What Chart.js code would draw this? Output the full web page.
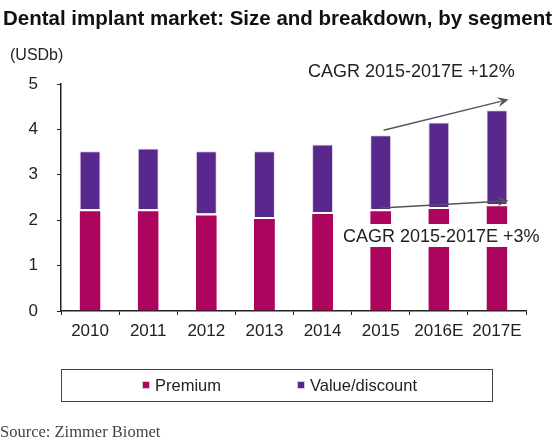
<!DOCTYPE html>
<html>
<head>
<meta charset="utf-8">
<script src="https://cdn.jsdelivr.net/npm/chart.js@4/dist/chart.umd.min.js"></script>
<style>
  html, body { margin: 0; padding: 0; background: #fff; }
  #wrap { position: relative; width: 560px; height: 448px; overflow: hidden; }
  #chart { position: absolute; left: 0; top: 0; }
  #legend {
    position: absolute; left: 61px; top: 369px; width: 430px; height: 31px;
    border: 1.5px solid #444; font: 16.5px "Liberation Sans", Arial, sans-serif; color: #222;
  }
  #legend .item { position: absolute; top: 6px; white-space: nowrap; }
  #legend .box { display: inline-block; width: 6px; height: 6px; margin-right: 5px; vertical-align: 2px; border: 0.5px solid #d9c6e6; }
  #source {
    position: absolute; left: 0; top: 422px;
    font: 16.5px "Liberation Serif", "Times New Roman", serif; color: #444;
  }
</style>
</head>
<body>
<div id="wrap">
  <canvas id="chart" width="560" height="448"></canvas>
  <div id="legend"></div>
  <div id="source">Source: Zimmer Biomet</div>
</div>
<script>
// values, USD billions
const years = ['2010', '2011', '2012', '2013', '2014', '2015', '2016E', '2017E'];
const premium = [2.24, 2.24, 2.15, 2.07, 2.18, 2.24, 2.29, 2.35];
const valueDiscount = [1.28, 1.34, 1.37, 1.45, 1.49, 1.63, 1.86, 2.07];
const seriesNames = ['Premium', 'Value/discount'];
const yTicks = [0, 1, 2, 3, 4, 5];

const colors = ['#ad045e', '#58288c'];

// CAGR arrows, in axis units (category index, value)
const arrowHigh = [[5.05, 3.98], [7.2, 4.66]];
const arrowLow = [[5, 2.27], [7.2, 2.43]];

const font = '"Liberation Sans", Arial, sans-serif';

function drawArrow(ctx, chart, pts) {
  let x = chart.scales.x, y = chart.scales.y;
  let x0 = x.getPixelForValue(pts[0][0]), y0 = y.getPixelForValue(pts[0][1]);
  let x1 = x.getPixelForValue(pts[1][0]), y1 = y.getPixelForValue(pts[1][1]);
  let ang = Math.atan2(y1 - y0, x1 - x0);
  ctx.strokeStyle = '#555';
  ctx.fillStyle = '#555';
  ctx.lineWidth = 1.5;
  ctx.beginPath();
  ctx.moveTo(x0, y0);
  ctx.lineTo(x1 - 8 * Math.cos(ang), y1 - 8 * Math.sin(ang));
  ctx.stroke();
  ctx.beginPath();
  ctx.moveTo(x1, y1);
  ctx.lineTo(x1 - 11 * Math.cos(ang) + 5 * Math.sin(ang), y1 - 11 * Math.sin(ang) - 5 * Math.cos(ang));
  ctx.lineTo(x1 - 7 * Math.cos(ang), y1 - 7 * Math.sin(ang));
  ctx.lineTo(x1 - 11 * Math.cos(ang) - 5 * Math.sin(ang), y1 - 11 * Math.sin(ang) + 5 * Math.cos(ang));
  ctx.closePath();
  ctx.fill();
}

const extras = {
  id: 'extras',
  afterDatasetsDraw(chart) {
    let ctx = chart.ctx;
    ctx.save();
    ctx.textBaseline = 'alphabetic';
    ctx.textAlign = 'left';

    ctx.fillStyle = '#111';
    ctx.font = 'bold 20.5px ' + font;
    ctx.fillText('Dental implant market: Size and breakdown, by segment', 3, 25);

    ctx.fillStyle = '#222';
    ctx.font = '16px ' + font;
    ctx.fillText('(USDb)', 10, 60);

    ctx.font = '18px ' + font;
    ctx.fillText('CAGR 2015-2017E +12%', 308, 77);

    // label box over the premium bars
    ctx.fillStyle = '#fff';
    ctx.fillRect(338, 224, 210, 23);
    ctx.fillStyle = '#222';
    ctx.fillText('CAGR 2015-2017E +3%', 343, 242);

    drawArrow(ctx, chart, arrowHigh);
    drawArrow(ctx, chart, arrowLow);
    ctx.restore();
  }
};

let ctx = document.getElementById('chart').getContext('2d');
new Chart(ctx, {
  type: 'bar',
  data: {
    labels: years,
    datasets: [{
      label: seriesNames[0],
      data: premium,
      backgroundColor: colors[0],
      borderColor: '#fff',
      borderWidth: { top: 2, left: 0, right: 0, bottom: 0 },
      borderSkipped: false,
      barPercentage: 0.36,
      categoryPercentage: 1
    }, {
      label: seriesNames[1],
      data: valueDiscount,
      backgroundColor: colors[1],
      borderColor: '#e6d6ee',
      borderWidth: 1,
      borderSkipped: 'start',
      barPercentage: 0.36,
      categoryPercentage: 1
    }]
  },
  options: {
    responsive: false,
    animation: false,
    devicePixelRatio: 1,
    layout: { padding: { top: 84, right: 34, bottom: 107, left: 0 } },
    plugins: {
      legend: { display: false },
      title: { display: false },
      tooltip: { enabled: false }
    },
    scales: {
      x: {
        stacked: true,
        afterFit: (s) => { s.height = 30; },
        grid: { drawOnChartArea: false, drawTicks: true, tickLength: 4, color: '#222', offset: true },
        border: { display: true, color: '#222', width: 1.5 },
        ticks: { color: '#222', font: { family: font, size: 17 }, padding: 6, maxRotation: 0, autoSkip: false }
      },
      y: {
        stacked: true,
        min: yTicks[0],
        max: yTicks[yTicks.length - 1],
        afterBuildTicks: (s) => { s.ticks = yTicks.map((v) => ({ value: v })); },
        afterFit: (s) => { s.width = 61; },
        grid: { drawOnChartArea: false, drawTicks: true, tickLength: 4, color: '#222' },
        border: { display: true, color: '#222', width: 1.5 },
        ticks: { color: '#222', font: { family: font, size: 17 }, padding: 19 }
      }
    }
  },
  plugins: [extras]
});

// legend box under the chart
let legend = document.getElementById('legend');
let legendX = [80, 235];
seriesNames.forEach(function (name, i) {
  let item = document.createElement('span');
  item.className = 'item';
  item.style.left = legendX[i] + 'px';
  item.innerHTML = '<span class="box" style="background:' + colors[i] + '"></span>' + name;
  legend.appendChild(item);
});
</script>
</body>
</html>
